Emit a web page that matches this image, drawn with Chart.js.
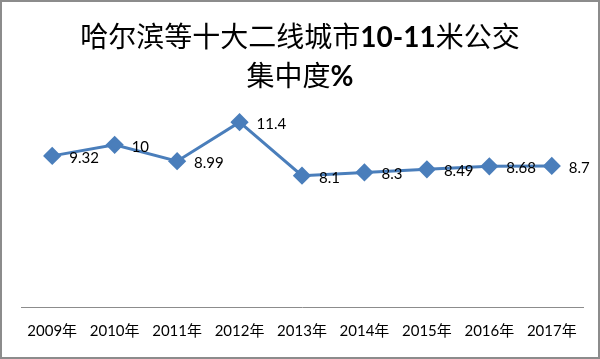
<!DOCTYPE html>
<html>
<head>
<meta charset="utf-8">
<script src="https://cdn.jsdelivr.net/npm/chart.js@4"></script>
<style>
  html, body { margin: 0; padding: 0; background: #fff; }
  #wrap {
    position: relative;
    width: 600px;
    height: 359px;
    box-sizing: border-box;
    border: 2px solid #8c8c8c;
    overflow: hidden;
  }
  #scope { position: absolute; left: -2px; top: -2px; }
  #title {
    position: absolute;
    left: -2px;
    top: 14px;
    width: 600px;
    text-align: center;
    font-family: "Noto Sans CJK SC", sans-serif;
    font-size: 28px;
    line-height: 38px;
    color: #000;
  }
  #title b { font-family: Lato, "Noto Sans CJK SC", sans-serif; font-weight: bold; }
</style>
</head>
<body>
<div id="wrap">
  <canvas id="scope" width="600" height="359"></canvas>
  <div id="title">哈尔滨等十大二线城市<b>10-11</b>米公交<br>集中度<b>%</b></div>
</div>
<script>
const years = ["2009年", "2010年", "2011年", "2012年", "2013年", "2014年", "2015年", "2016年", "2017年"];
const share = [9.32, 10, 8.99, 11.4, 8.1, 8.3, 8.49, 8.68, 8.7];
const shareLabels = ["9.32", "10", "8.99", "11.4", "8.1", "8.3", "8.49", "8.68", "8.7"];

// value labels to the right of each marker
const pointLabels = {
  id: "pointLabels",
  afterDatasetsDraw(chart) {
    const ctx = chart.ctx;
    const meta = chart.getDatasetMeta(0);
    ctx.save();
    ctx.font = "15px Lato, sans-serif";
    ctx.fillStyle = "#000";
    ctx.textAlign = "left";
    ctx.textBaseline = "middle";
    meta.data.forEach((pt, i) => {
      ctx.fillText(shareLabels[i], pt.x + 17, pt.y + 2);
    });
    ctx.restore();
  },
};

const scopeConfig = {
  type: "line",
  data: {
    labels: years,
    datasets: [
      {
        data: share,
        borderColor: "#4a7ebb",
        backgroundColor: "#4a7ebb",
        borderWidth: 3,
        pointStyle: "rectRot",
        pointRadius: 7,
        pointHoverRadius: 7,
        tension: 0,
      },
    ],
  },
  options: {
    responsive: false,
    animation: false,
    layout: { padding: { left: 21, right: 17, top: 80, bottom: 12 } },
    scales: {
      x: {
        offset: true,
        grid: { display: false },
        border: { display: true, color: "#8c8c8c", width: 1 },
        ticks: {
          padding: 7,
          color: "#000",
          font: { family: "Lato, 'Noto Sans CJK SC', sans-serif", size: 15 },
          maxRotation: 0,
        },
      },
      y: {
        display: false,
        min: 0,
        max: 14,
      },
    },
    plugins: {
      legend: { display: false },
      tooltip: { enabled: false },
    },
  },
  plugins: [pointLabels],
};

const scope = new Chart(document.querySelector("#scope"), scopeConfig);
</script>
</body>
</html>
